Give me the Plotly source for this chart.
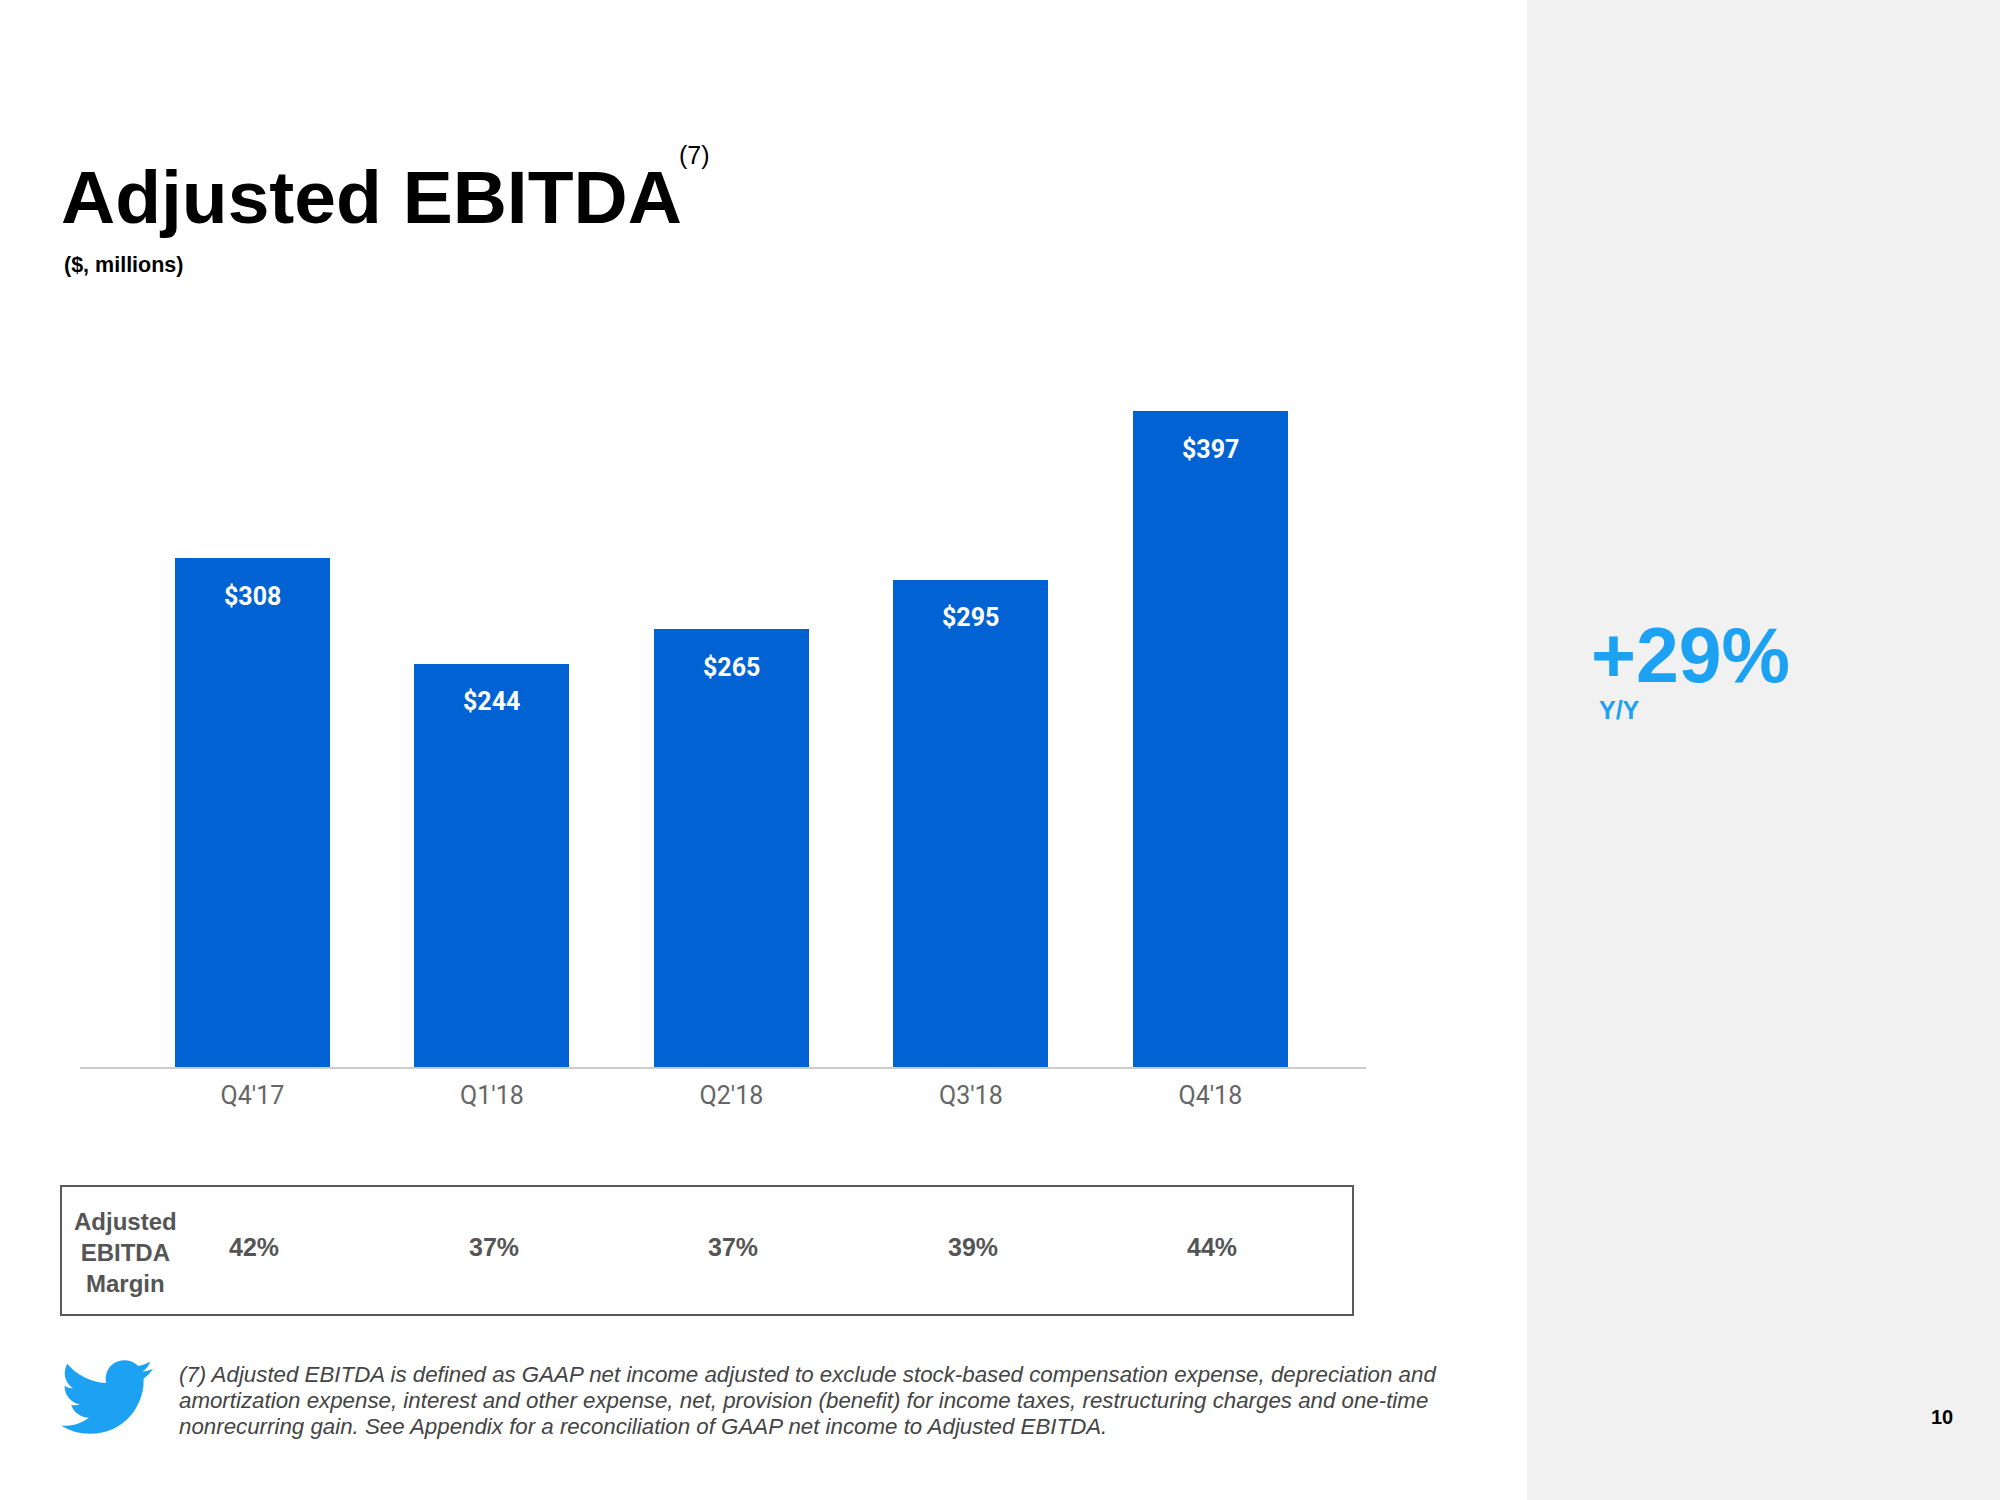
import plotly.graph_objects as go

quarters = ["Q4'17", "Q1'18", "Q2'18", "Q3'18", "Q4'18"]
ebitda = [308, 244, 265, 295, 397]
value_labels = ["$308", "$244", "$265", "$295", "$397"]
margins = ["42%", "37%", "37%", "39%", "44%"]
yoy_growth = "+29%"
footnote_lines = [
    "(7) Adjusted EBITDA is defined as GAAP net income adjusted to exclude stock-based compensation expense, depreciation and",
    "amortization expense, interest and other expense, net, provision (benefit) for income taxes, restructuring charges and one-time",
    "nonrecurring gain. See Appendix for a reconciliation of GAAP net income to Adjusted EBITDA.",
]

W, H = 2000, 1500
L, R, T, B = 80, 1366, 372, 1067


def px(x):
    return (x - L) / (R - L)


def py(y):
    return (B - y) / (B - T)


BLUE = "#0062D3"
TW = "#1DA1F2"
GRAY = "#555555"
BOLD = "Liberation Sans, Arial, sans-serif"

fig = go.Figure()
fig.add_trace(go.Bar(
    x=list(range(len(quarters))), y=ebitda, marker_color=BLUE,
    marker_line_width=0, width=0.647, hoverinfo="skip",
))

shapes = [
    dict(type="rect", xref="paper", yref="paper", x0=px(1527), x1=px(2000),
         y0=py(1500), y1=py(0), fillcolor="#F1F1F1", line_width=0, layer="below"),
    dict(type="rect", xref="paper", yref="paper", x0=px(61), x1=px(1353),
         y0=py(1315), y1=py(1186), line=dict(color="#5a5a5a", width=2),
         fillcolor="rgba(0,0,0,0)"),
]

ann = []
for i, (v, lab) in enumerate(zip(ebitda, value_labels)):
    ann.append(dict(x=i, y=v, xref="x", yref="y", text=f"<b>{lab}</b>", showarrow=False,
                    yanchor="middle", yshift=-38,
                    font=dict(family="Roboto, sans-serif", size=25, color="white")))
for i, m in enumerate(margins):
    ann.append(dict(x=i, y=py(1247), xref="x", yref="paper", text=f"<b>{m}</b>", showarrow=False,
                    xshift=2, yanchor="middle",
                    font=dict(family=BOLD, size=25, color=GRAY)))
ann.append(dict(x=px(125), y=py(1252), xref="paper", yref="paper",
                text="<b>Adjusted<br>EBITDA<br>Margin</b>", showarrow=False,
                xanchor="center", yanchor="middle", align="center",
                font=dict(family=BOLD, size=24, color=GRAY)))
ann.append(dict(x=px(59), y=py(197), xref="paper", yref="paper", text="<b>Adjusted EBITDA</b>",
                showarrow=False, xanchor="left", yanchor="middle",
                font=dict(family=BOLD, size=75, color="black")))
ann.append(dict(x=px(677), y=py(155), xref="paper", yref="paper", text="(7)",
                showarrow=False, xanchor="left", yanchor="middle",
                font=dict(family=BOLD, size=25, color="black")))
ann.append(dict(x=px(62), y=py(265), xref="paper", yref="paper", text="<b>($, millions)</b>",
                showarrow=False, xanchor="left", yanchor="middle",
                font=dict(family=BOLD, size=21.5, color="black")))
ann.append(dict(x=px(1589), y=py(655), xref="paper", yref="paper", text=f"<b>{yoy_growth}</b>",
                showarrow=False, xanchor="left", yanchor="middle",
                font=dict(family=BOLD, size=77, color=TW)))
ann.append(dict(x=px(1597), y=py(710), xref="paper", yref="paper", text="<b>Y/Y</b>",
                showarrow=False, xanchor="left", yanchor="middle",
                font=dict(family=BOLD, size=25, color=TW)))
ann.append(dict(x=px(1955), y=py(1417), xref="paper", yref="paper", text="<b>10</b>",
                showarrow=False, xanchor="right", yanchor="middle",
                font=dict(family=BOLD, size=20, color="black")))
for k, line in enumerate(footnote_lines):
    ann.append(dict(x=px(177), y=py(1374 + 26 * k), xref="paper", yref="paper",
                    text=f"<i>{line}</i>", showarrow=False, xanchor="left", yanchor="middle",
                    align="left", font=dict(family=BOLD, size=22.3, color="#444444")))

bird_svg = ('<svg xmlns="http://www.w3.org/2000/svg" viewBox="0 2.2 24 19.6">'
            '<path fill="#1DA1F2" d="M23.953 4.57a10 10 0 01-2.825.775 4.958 4.958 0 002.163-2.723c-.951.555-2.005.959-3.127 1.184a4.92 4.92 0 00-8.384 4.482C7.69 8.095 4.067 6.13 1.64 3.162a4.822 4.822 0 00-.666 2.475c0 1.71.87 3.213 2.188 4.096a4.904 4.904 0 01-2.228-.616v.06a4.923 4.923 0 003.946 4.827 4.996 4.996 0 01-2.212.085 4.936 4.936 0 004.604 3.417 9.867 9.867 0 01-6.102 2.105c-.39 0-.779-.023-1.17-.067a13.995 13.995 0 007.557 2.209c9.053 0 13.998-7.496 13.998-13.985 0-.21 0-.42-.015-.63A9.935 9.935 0 0024 4.59z"/></svg>')
images = [dict(source="data:image/svg+xml;utf8," + bird_svg.replace("#", "%23"),
               xref="paper", yref="paper", x=px(61), y=py(1360), sizex=px(153) - px(61),
               sizey=py(1360) - py(1434), xanchor="left", yanchor="top", sizing="stretch", layer="above")]

fig.update_layout(
    width=W, height=H, margin=dict(l=L, r=W - R, t=T, b=H - B),
    paper_bgcolor="white", plot_bgcolor="white", showlegend=False,
    bargap=0, shapes=shapes, annotations=ann, images=images,
    xaxis=dict(range=[-0.72, 4.65], tickmode="array", tickvals=list(range(len(quarters))),
               ticktext=quarters, showgrid=False, zeroline=False, showline=True,
               linecolor="#CCCCCC", linewidth=2, ticks="outside", ticklen=5,
               tickcolor="rgba(0,0,0,0)", fixedrange=True,
               tickfont=dict(family="Roboto, sans-serif", size=25, color="#666666")),
    yaxis=dict(range=[0, 420.7], visible=False, fixedrange=True),
)
fig.write_html("out.html", config={"displayModeBar": False},
               post_script="document.body.style.margin='0';")
